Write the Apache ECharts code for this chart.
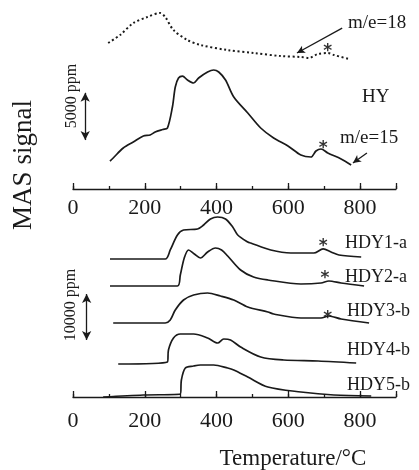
<!DOCTYPE html>
<html>
<head>
<meta charset="utf-8">
<script src="https://cdn.jsdelivr.net/npm/echarts@6/dist/echarts.min.js"></script>
<style>html,body{margin:0;padding:0;background:#fff;}#c{width:419px;height:470px;}</style>
</head>
<body>
<div id="c"></div>
<script>
// ---- data (x: temperature °C, y: MAS signal, ppm-scaled, with vertical offsets) ----
const xTickLabels = [0, 200, 400, 600, 800];

const me18 = [[98,15450],[131,16290],[168,17560],[207,18200],[243,18620],[257,18200],[280,16820],[319,15760],[355,15240],[431,14700],[504,14390],[579,14070],[635,13970],[657,13860],[682,14280],[710,14390],[727,14180],[769,13750]];

const hy15 = [[103,2962],[112,3280],[140,4338],[168,4973],[196,5607],[215,5713],[229,6031],[250,6300],[263,6450],[277,8680],[285,10790],[294,11744],[305,11955],[319,11532],[336,11215],[350,11744],[375,12379],[392,12590],[406,12379],[425,11532],[448,9733],[487,8041],[523,6454],[559,5396],[599,4549],[635,3597],[663,3385],[677,4020],[691,4232],[710,3809],[747,3174],[775,2539]];

const hdy1 = [[103,30000],[257,30000],[271,31960],[291,35220],[308,36300],[347,36520],[364,37390],[383,38700],[403,39130],[425,38700],[445,36960],[459,35220],[487,33700],[495,33480],[551,31960],[607,31300],[671,31300],[697,32180],[719,31520],[741,30870],[803,30430]];

const hdy2 = [[103,24130],[291,24130],[299,26520],[310,30220],[322,31960],[338,31090],[355,30220],[375,31520],[397,32390],[414,31960],[431,30650],[467,27610],[503,26090],[543,25440],[635,24570],[691,24780],[713,25220],[747,24780],[811,24130]];

const hdy3 = [[112,16090],[257,16090],[271,16740],[285,18910],[308,21090],[336,22170],[375,22610],[411,21960],[448,21090],[487,19570],[543,18480],[559,18040],[635,17170],[691,17170],[713,17610],[747,16960],[825,16090]];

const hdy4 = [[126,7170],[263,7610],[266,10220],[280,12830],[299,13700],[336,13700],[375,12830],[403,11740],[420,12610],[439,12390],[467,10870],[523,8700],[587,8040],[683,7830],[789,7390]];

const hdy5 = [[84,0],[196,435],[299,650],[302,3700],[313,6300],[336,6740],[355,6960],[392,6960],[431,6300],[448,5870],[487,4350],[543,2170],[635,1090],[727,435],[831,217]];

const starsTop = [[710,14920],[697,4655]];
const starsBottom = [[697,33480],[702,26520],[710,17830]];

const scaleBarTop = [[34,5180],[34,10180]];      // 5000 ppm
const scaleBarBottom = [[38,12390],[38,22390]];  // 10000 ppm
const arrow18 = [[750,17030],[624,14390]];
const arrow15 = [[819,3810],[780,2750]];

// ---- chart ----
const FONT = "'Liberation Serif','Times New Roman',serif";
const INK = '#1a1a1a';
const chart = echarts.init(document.getElementById('c'), null, {renderer: 'canvas'});

function xAxisCfg(gridIndex, margin) {
  return {
    gridIndex: gridIndex, type: 'value', min: 0, max: 900, interval: 100,
    axisLine: {show: true, onZero: false, lineStyle: {color: INK, width: 1.3}},
    axisTick: {show: true, inside: true, length: 3, lineStyle: {color: INK, width: 1.3}},
    splitLine: {show: false},
    axisLabel: {
      margin: margin, fontFamily: FONT, fontSize: 22, color: INK,
      formatter: v => xTickLabels.indexOf(v) >= 0 ? String(v) : ''
    }
  };
}
function xMajorCfg(gridIndex) {
  return {
    gridIndex: gridIndex, type: 'value', min: 0, max: 900, interval: 200, position: 'bottom',
    axisLine: {show: false}, axisLabel: {show: false}, splitLine: {show: false},
    axisTick: {show: true, inside: true, length: 6, lineStyle: {color: INK, width: 1.3}}
  };
}
function yAxisCfg(gridIndex, max) {
  return {gridIndex: gridIndex, type: 'value', min: 0, max: max, show: false};
}
function curve(data, xi, dotted) {
  return {
    type: 'line', xAxisIndex: xi, yAxisIndex: xi, data: data,
    showSymbol: false, smooth: 0.3, silent: true,
    lineStyle: dotted ? {color: INK, width: 2, type: [2, 2.6]} : {color: INK, width: 1.7}
  };
}
function arrowLine(pts, both) {
  return {
    silent: true, animation: false,
    symbol: both ? ['arrow', 'arrow'] : ['none', 'arrow'],
    symbolSize: both ? [7, 9] : [6, 8],
    label: {show: false},
    lineStyle: {color: INK, width: 1.3, type: 'solid'},
    data: [[{coord: pts[0]}, {coord: pts[1]}]]
  };
}
function stars(data, xi) {
  return {
    type: 'scatter', xAxisIndex: xi, yAxisIndex: xi, data: data, silent: true,
    symbolSize: 2, itemStyle: {color: 'rgba(0,0,0,0)'},
    label: {show: true, position: 'inside', formatter: '*', fontFamily: "'DejaVu Sans'", fontSize: 17, fontWeight: 'bold', color: '#000', offset: [0, 4]}
  };
}
function txt(text, x, y, size, align) {
  return {
    type: 'text', x: x, y: y, silent: true,
    style: {text: text, fontFamily: FONT, fontSize: size, fill: INK, textAlign: align || 'left', textVerticalAlign: 'middle'}
  };
}
function rtxt(text, x, y, size) {
  return {
    type: 'text', x: x, y: y, rotation: Math.PI / 2, silent: true,
    style: {text: text, fontFamily: FONT, fontSize: size, fill: INK, textAlign: 'center', textVerticalAlign: 'middle'}
  };
}

const s18 = curve(me18, 0, true);
s18.markLine = arrowLine(arrow18, false);
const s15 = curve(hy15, 0, false);
s15.markLine = arrowLine(arrow15, false);
const sBarTop = {type: 'line', xAxisIndex: 0, yAxisIndex: 0, data: [], markLine: arrowLine(scaleBarTop, true)};
const sBarBottom = {type: 'line', xAxisIndex: 1, yAxisIndex: 1, data: [], markLine: arrowLine(scaleBarBottom, true)};

chart.setOption({
  animation: false,
  backgroundColor: '#fff',
  grid: [
    {left: 73, right: 23, top: 0, height: 189},
    {left: 73, right: 23, top: 213, height: 184}
  ],
  xAxis: [xAxisCfg(0, 8), xAxisCfg(1, 13), xMajorCfg(0), xMajorCfg(1)],
  yAxis: [yAxisCfg(0, 20000), yAxisCfg(1, 40000)],
  series: [
    s18, s15,
    curve(hdy1, 1), curve(hdy2, 1), curve(hdy3, 1), curve(hdy4, 1), curve(hdy5, 1),
    stars(starsTop, 0), stars(starsBottom, 1),
    sBarTop, sBarBottom
  ],
  graphic: [
    rtxt('MAS signal', 24, 165, 27),
    rtxt('5000 ppm', 72, 96, 16),
    rtxt('10000 ppm', 71, 305, 16),
    txt('m/e=18', 348, 23, 19),
    txt('HY', 362, 97, 19),
    txt('m/e=15', 340, 138, 19),
    txt('HDY1-a', 345, 243, 18),
    txt('HDY2-a', 345, 277, 18),
    txt('HDY3-b', 347, 311, 18),
    txt('HDY4-b', 347, 350, 18),
    txt('HDY5-b', 347, 385, 18),
    txt('Temperature/°C', 293, 459, 23, 'center')
  ]
});
</script>
</body>
</html>
